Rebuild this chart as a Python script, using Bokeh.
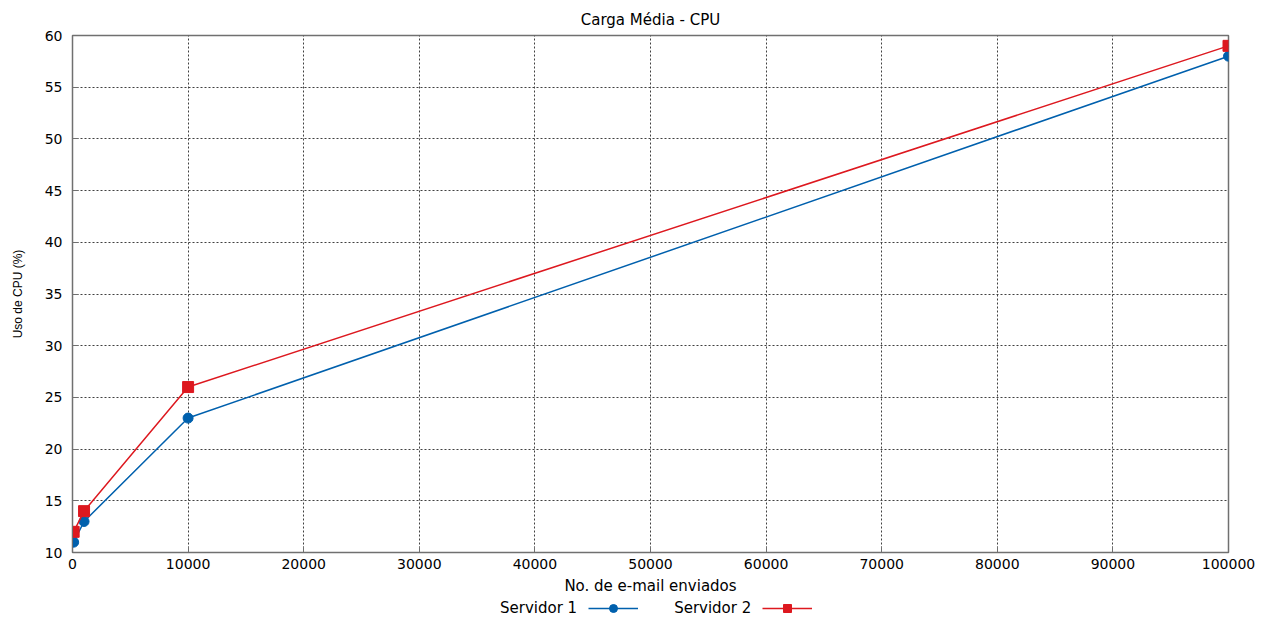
from bokeh.plotting import figure
from bokeh.layouts import column
from bokeh.models import (Range1d, Legend, LegendItem, FixedTicker,
                          NumeralTickFormatter)
from bokeh.embed import file_html
from bokeh.resources import INLINE

emails = [100, 1000, 10000, 100000]
servidor1 = [11, 13, 23, 58]
servidor2 = [12, 14, 26, 59]
series_names = ["Servidor 1", "Servidor 2"]
x_ticks = list(range(0, 100001, 10000))
y_ticks = list(range(10, 61, 5))

FONT = "DejaVu Sans"
BLUE = "#0060ad"
RED = "#dd181f"

p = figure(width=1279, height=597, output_backend="svg", toolbar_location=None,
           x_range=Range1d(0, 100000), y_range=Range1d(10, 60),
           min_border_left=72, min_border_right=51, min_border_top=35,
           min_border_bottom=45, title="Carga Média - CPU")
p.title.align = "center"
p.title.text_font = FONT
p.title.text_font_size = "15px"
p.title.text_font_style = "normal"
p.title.text_color = "#000000"
p.title.standoff = 14

p.outline_line_color = "#707070"
p.outline_line_width = 1.5
p.background_fill_color = "white"
p.border_fill_color = "white"

for ax in (p.xaxis[0], p.yaxis[0]):
    ax.axis_line_color = "#707070"
    ax.major_tick_in = 6
    ax.major_tick_out = 0
    ax.minor_tick_in = 0
    ax.minor_tick_out = 0
    ax.major_tick_line_color = "#707070"
    ax.major_label_text_font = FONT
    ax.major_label_text_font_size = "14px"
    ax.major_label_text_color = "#000000"
    ax.axis_label_text_font_style = "normal"
    ax.axis_label_text_color = "#000000"

p.xaxis.ticker = FixedTicker(ticks=x_ticks)
p.yaxis.ticker = FixedTicker(ticks=y_ticks)
p.xaxis.formatter = NumeralTickFormatter(format="0")
p.xaxis.major_label_standoff = 6
p.yaxis.major_label_standoff = 10

p.xaxis.axis_label = "No. de e-mail enviados"
p.xaxis.axis_label_text_font = FONT
p.xaxis.axis_label_text_font_size = "15px"
p.xaxis.axis_label_standoff = 5

p.yaxis.axis_label = "Uso de CPU (%)"
p.yaxis.axis_label_text_font = "Liberation Sans"
p.yaxis.axis_label_text_font_size = "12px"
p.yaxis.axis_label_standoff = 17

p.grid.grid_line_color = "#404040"
p.grid.grid_line_dash = "2 2"
p.grid.grid_line_width = 1

p.line(emails, servidor1, line_color=BLUE, line_width=1.5)
p.scatter(emails, servidor1, marker="circle", size=10, fill_color=BLUE,
          line_color=BLUE)
p.line(emails, servidor2, line_color=RED, line_width=1.5)
p.scatter(emails, servidor2, marker="square", size=11, fill_color=RED,
          line_color=RED)

# legend strip below the chart: its renderers use the same series but the
# strip's ranges keep them out of view, so only the key is drawn
lf = figure(width=1279, height=22, output_backend="svg", toolbar_location=None,
            x_range=Range1d(-2, -1), y_range=Range1d(-2, -1),
            min_border_left=0, min_border_right=0, min_border_top=0,
            min_border_bottom=0)
lf.axis.visible = False
lf.grid.visible = False
lf.outline_line_color = None
lf.background_fill_color = "white"
lf.border_fill_color = "white"

blank = lf.line(emails, servidor1, line_alpha=0)
k1l = lf.line(emails, servidor1, line_color=BLUE, line_width=1.5)
k1m = lf.scatter(emails, servidor1, marker="circle", size=10, fill_color=BLUE,
                 line_color=BLUE)
k2l = lf.line(emails, servidor2, line_color=RED, line_width=1.5)
k2m = lf.scatter(emails, servidor2, marker="square", size=11, fill_color=RED,
                 line_color=RED)

legend = Legend(items=[LegendItem(label=series_names[0], renderers=[blank]),
                       LegendItem(label=series_names[1], renderers=[k1l, k1m]),
                       LegendItem(label=" ", renderers=[k2l, k2m])],
                location=(342, 1), orientation="horizontal",
                glyph_width=50, glyph_height=20, label_width=0,
                label_standoff=36, spacing=11,
                label_text_font=FONT, label_text_font_size="15px",
                label_text_color="#000000",
                padding=0, margin=0, border_line_alpha=0,
                background_fill_alpha=0)
lf.add_layout(legend, "center")

layout = column(p, lf, spacing=0)
open("out.html", "w").write(file_html(layout, INLINE))
